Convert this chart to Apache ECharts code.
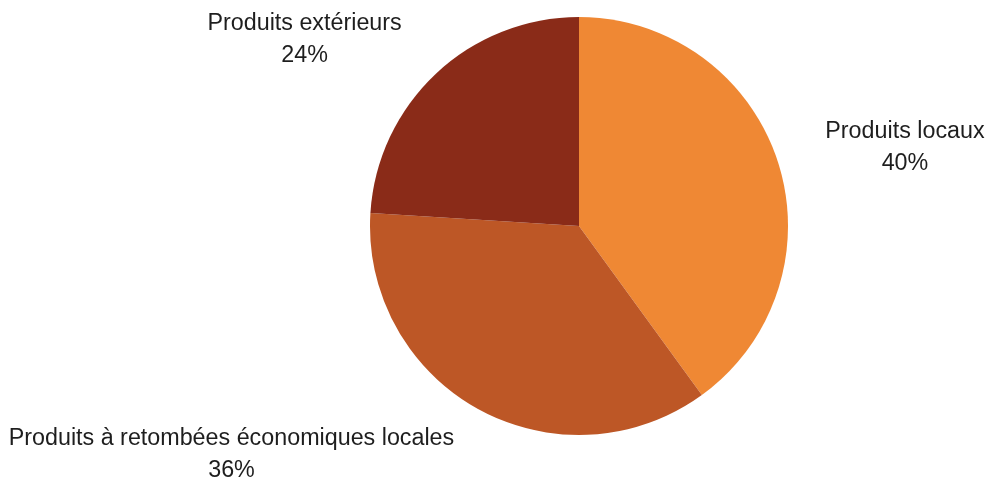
<!DOCTYPE html>
<html>
<head>
<meta charset="utf-8">
<style>
html,body{margin:0;padding:0;background:#fff;}
#chart{width:986px;height:477px;}
</style>
<script src="https://cdn.jsdelivr.net/npm/echarts@6/dist/echarts.min.js"></script>
</head>
<body>
<div id="chart"></div>
<script>
const categories = ['Produits locaux', 'Produits à retombées économiques locales', 'Produits extérieurs'];
const values = [40, 36, 24];
const colors = ['#EF8834', '#BD5726', '#8A2B18'];

const FONT = "'Liberation Sans', Arial, sans-serif";
const chart = echarts.init(document.getElementById('chart'));
chart.setOption({
  animation: false,
  backgroundColor: '#ffffff',
  series: [{
    type: 'pie',
    center: [579, 226],
    radius: 209,
    startAngle: 90,
    clockwise: true,
    avoidLabelOverlap: false,
    data: categories.map((c, i) => ({ name: c, value: values[i], itemStyle: { color: colors[i] } })),
    itemStyle: { borderWidth: 0 },
    label: {
      show: true,
      position: 'outside',
      distanceToLabelLine: 0,
      formatter: p => '{a|' + p.name + '}\n{a|' + Math.round(p.percent) + '%}',
      color: '#1e1e1e',
      fontFamily: FONT,
      fontSize: 23.3,
      lineHeight: 32,
      padding: [4, 0, 0, 0],
      rich: {
        a: { align: 'center', fontFamily: FONT, fontSize: 23.3, lineHeight: 32, color: '#1e1e1e' }
      }
    },
    labelLine: { show: false, length: 50, length2: 0 },
    emphasis: { disabled: true }
  }]
});
</script>
</body>
</html>
